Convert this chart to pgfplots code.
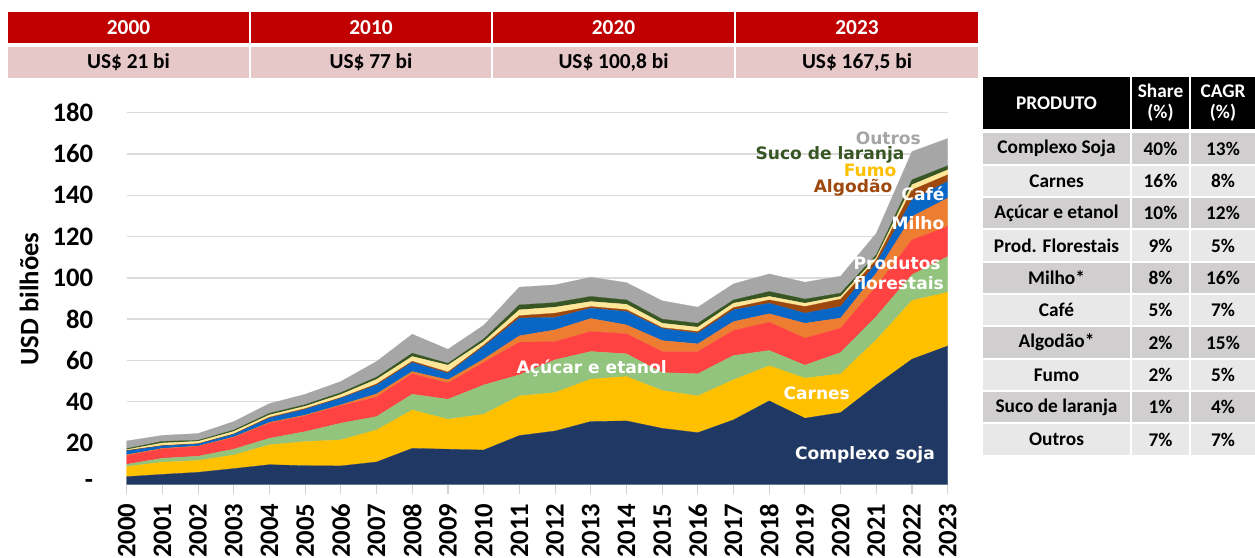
\documentclass[border=0pt]{standalone}
\usepackage{pgfplots}
\pgfplotsset{compat=1.18}
\usepackage{pgfplotstable}
\usepackage{fontspec}
\setmainfont{Carlito}
\newfontfamily\dv{DejaVu Sans}
\definecolor{soja}{HTML}{203864}
\definecolor{carnes}{HTML}{FFC000}
\definecolor{acucar}{HTML}{93C47D}
\definecolor{flor}{HTML}{FF4343}
\definecolor{milho}{HTML}{ED7D31}
\definecolor{cafe}{HTML}{0866C6}
\definecolor{algodao}{HTML}{9E480E}
\definecolor{fumo}{HTML}{FFE699}
\definecolor{suco}{HTML}{375623}
\definecolor{outros}{HTML}{A6A6A6}
\definecolor{hdrred}{HTML}{C00000}
\definecolor{hdrpink}{HTML}{E6C8C9}
\definecolor{rowdark}{HTML}{D0CECE}
\definecolor{rowlight}{HTML}{E8E8E8}

\pgfplotstableread{
year soja carnes acucar flor milho cafe algodao fumo suco outros
2000 3.7 4.9 1.1 4.2 0.4 1.9 0.2 0.4 0.5 3.7
2001 4.8 5.9 1.9 4.5 0.3 1.2 0.2 1.2 0.8 2.9
2002 5.8 5.7 2.1 4.7 0.2 1.0 0.2 1.1 0.5 3.3
2003 7.6 6.6 2.8 5.6 0.3 1.3 0.2 1.2 0.7 4.1
2004 9.5 9.6 3.2 7.3 0.4 2.1 0.4 1.1 0.8 4.7
2005 9.0 11.7 4.8 7.6 0.4 2.8 0.4 1.1 0.8 5.0
2006 8.9 12.6 8.1 8.5 0.4 3.2 0.3 1.5 0.9 5.4
2007 10.8 15.5 6.5 9.4 1.6 4.2 0.6 2.2 1.1 7.6
2008 17.4 18.6 7.6 9.9 1.1 4.4 0.6 2.3 1.6 9.2
2009 17.0 14.5 9.7 7.8 1.6 3.2 0.6 3.3 0.9 6.8
2010 16.6 17.3 14.2 10.9 1.6 6.1 0.7 1.7 1.3 6.6
2011 23.6 19.2 10.2 15.8 3.1 8.6 1.2 2.8 2.4 8.6
2012 25.8 18.6 15.9 8.8 5.7 6.0 2.1 2.9 2.2 8.6
2013 30.4 20.5 13.4 9.7 6.3 5.0 0.8 2.4 2.5 9.3
2014 30.7 21.5 11.0 9.7 4.3 6.5 0.9 2.6 2.1 8.4
2015 27.1 18.3 8.7 10.2 5.3 5.8 0.5 2.1 2.0 8.9
2016 25.0 17.8 10.7 10.8 3.7 5.2 0.8 2.1 1.9 7.8
2017 31.2 19.4 11.8 12.1 4.3 5.7 1.1 2.1 1.6 7.8
2018 40.4 17.0 7.4 13.7 4.1 5.1 1.6 1.7 2.4 8.5
2019 32.0 19.4 6.3 13.1 7.2 4.9 3.2 1.6 2.0 8.2
2020 34.7 18.8 10.3 11.8 4.9 5.6 3.6 1.3 1.6 8.2
2021 48.1 21.9 11.3 14.5 6.5 4.8 1.6 1.2 1.2 10.5
2022 60.6 28.4 12.5 16.9 11.3 8.1 4.8 2.5 2.4 13.7
2023 67.0 26.0 17.3 14.6 13.7 8.1 3.2 2.4 2.0 13.2
}\data

\begin{document}
\begin{tikzpicture}
\path[use as bounding box] (0,0) rectangle (941.25pt,417.75pt);
\begin{axis}[
  at={(95.025pt,54.525pt)}, anchor=south west,
  scale only axis, width=615.75pt, height=278.7pt,
  xmin=2000, xmax=2023, ymin=0, ymax=180,
  stack plots=y,
  axis x line*=bottom, axis y line*=left,
  y axis line style={draw=none},
  x axis line style={draw=black!18, line width=1pt},
  ymajorgrids, grid style={draw=black!14, line width=1.1pt},
  ytick={0,20,...,180},
  yticklabels={-\hspace{9pt},20,40,60,80,100,120,140,160,180},
  xtick={2000,2001,...,2023},
  /pgf/number format/1000 sep={},
  /pgf/number format/assume math mode=true,
  ticklabel style={font=\bfseries\fontsize{20}{24}\selectfont},
  xticklabel style={rotate=90, anchor=east, inner sep=0pt},
  xticklabel shift=7.25pt,
  yticklabel style={anchor=east, inner sep=0pt},
  yticklabel shift=18pt,
  ytick style={draw=none},
  xtick style={draw=black!18, line width=0.8pt},
  major tick length=7pt, tick align=outside,
  clip=false,
]
\addplot[fill=soja, draw=soja, line width=0.2pt] table[x=year,y=soja]{\data} \closedcycle;
\addplot[fill=carnes, draw=carnes, line width=0.2pt] table[x=year,y=carnes]{\data} \closedcycle;
\addplot[fill=acucar, draw=acucar, line width=0.2pt] table[x=year,y=acucar]{\data} \closedcycle;
\addplot[fill=flor, draw=flor, line width=0.2pt] table[x=year,y=flor]{\data} \closedcycle;
\addplot[fill=milho, draw=milho, line width=0.2pt] table[x=year,y=milho]{\data} \closedcycle;
\addplot[fill=cafe, draw=cafe, line width=0.2pt] table[x=year,y=cafe]{\data} \closedcycle;
\addplot[fill=algodao, draw=algodao, line width=0.2pt] table[x=year,y=algodao]{\data} \closedcycle;
\addplot[fill=fumo, draw=fumo, line width=0.2pt] table[x=year,y=fumo]{\data} \closedcycle;
\addplot[fill=suco, draw=suco, line width=0.2pt] table[x=year,y=suco]{\data} \closedcycle;
\addplot[fill=outros, draw=outros, line width=0.2pt] table[x=year,y=outros]{\data} \closedcycle;
\end{axis}

\begin{scope}[x=0.75pt,y=0.75pt]
% y label
\node[rotate=90, font=\bfseries\fontsize{20}{24}\selectfont] at (29,258) {USD bilhões};
% chart labels
\begin{scope}[font=\dv\bfseries\fontsize{12.8}{15}\selectfont, inner sep=0pt]
\node[white] at (865,102) {Complexo soja};
\node[white] at (816.7,163.7) {Carnes};
\node[white] at (591.7,188.7) {Açúcar e etanol};
\node[white, anchor=west] at (853.3,294.3) {Produtos};
\node[white, anchor=west] at (853.3,273.7) {florestais};
\node[white] at (918,333.7) {Milho};
\node[white] at (923,363) {Café};
\node[text=algodao] at (853,369.7) {Algodão};
\node[text=carnes] at (870,386.3) {Fumo};
\node[text=suco] at (830,402) {Suco de laranja};
\node[text=outros] at (888.3,419) {Outros};
\end{scope}
% header
\begin{scope}[font=\bfseries\fontsize{16}{19}\selectfont]
\foreach \a/\b/\y/\v in {8/249/2000/{US\$ 21 bi}, 251/491/2010/{US\$ 77 bi}, 493/734/2020/{US\$ 100,8 bi}, 736/978/2023/{US\$ 167,5 bi}}{
  \fill[hdrred] (\a,545) rectangle (\b,514);
  \fill[hdrpink] (\a,510) rectangle (\b,479);
  \node[white] at ({(\a+\b)/2},529.5) {\y};
  \node[black] at ({(\a+\b)/2},494.5) {\v};
}
\end{scope}
% table
\begin{scope}[font=\bfseries\fontsize{14.5}{16}\selectfont]
\fill[black] (983,480.3) rectangle (1130,427.7);
\fill[black] (1132,480.3) rectangle (1189,427.7);
\fill[black] (1191,480.3) rectangle (1255,427.7);
\node[white] at (1056.5,454) {PRODUTO};
\node[white, align=center] at (1160.5,454) {Share\\(\%)};
\node[white, align=center] at (1223,454) {CAGR\\(\%)};
\foreach \i/\c/\n/\s/\g in {0/rowdark/Complexo Soja/40\%/13\%, 1/rowlight/Carnes/16\%/8\%, 2/rowdark/Açúcar e etanol/10\%/12\%, 3/rowlight/Prod. Florestais/9\%/5\%, 4/rowdark/Milho*/8\%/16\%, 5/rowlight/Café/5\%/7\%, 6/rowdark/Algodão*/2\%/15\%, 7/rowlight/Fumo/2\%/5\%, 8/rowdark/Suco de laranja/1\%/4\%, 9/rowlight/Outros/7\%/7\%}{
  \pgfmathsetmacro\top{423.7-32.34*\i}
  \pgfmathsetmacro\bot{\top-30.4}
  \pgfmathsetmacro\mid{\top-15.2}
  \fill[\c] (983,\top) rectangle (1130,\bot);
  \fill[\c] (1132,\top) rectangle (1189,\bot);
  \fill[\c] (1191,\top) rectangle (1255,\bot);
  \node at (1056.5,\mid) {\n};
  \node at (1160.5,\mid) {\s};
  \node at (1223,\mid) {\g};
}
\end{scope}
\end{scope}
\end{tikzpicture}
\end{document}
